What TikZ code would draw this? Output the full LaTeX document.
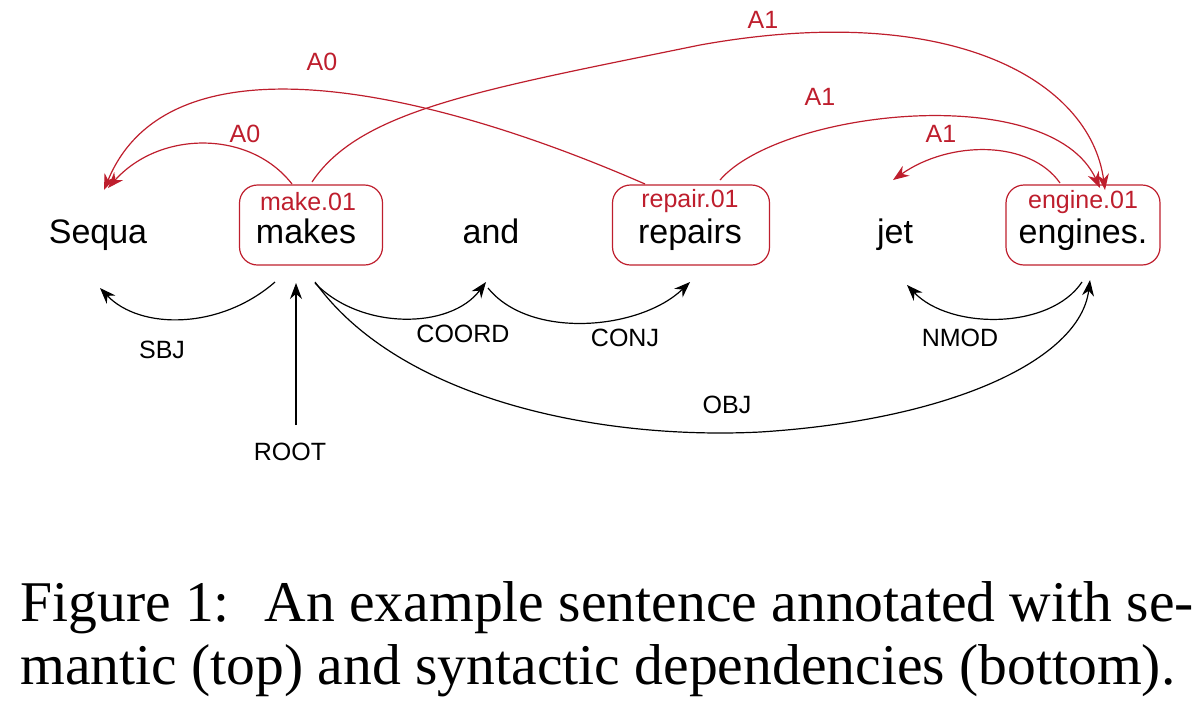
\documentclass[tikz,border=0pt]{standalone}
\usepackage{fontspec}
\setmainfont{Liberation Serif}
\newfontfamily\diag{Liberation Sans}
\usetikzlibrary{arrows.meta}
\definecolor{semred}{RGB}{190,30,45}
\begin{document}
\begin{tikzpicture}[x=0.5pt,y=-0.5pt,
  word/.style={font=\diag\fontsize{17}{20}\selectfont,inner sep=0pt,anchor=base},
  pred/.style={draw=semred,line width=0.6pt,rounded corners=9pt,minimum height=40pt,inner sep=0pt},
  plab/.style={font=\diag\fontsize{12.5}{15}\selectfont,text=semred,inner sep=0pt},
  slab/.style={font=\diag\fontsize{12.5}{14}\selectfont,inner sep=0pt},
  sem/.style={draw=semred,line width=0.6pt,-{Stealth[length=8pt,width=6pt]}},
  syn/.style={draw=black,line width=0.6pt,-{Stealth[length=8pt,width=6pt]}}]
\useasboundingbox (0,0) rectangle (1202,720);
\node[pred,minimum width=71.5pt] (bmake) at (311,225) {};
\node[pred,minimum width=78.5pt] (brep) at (691,225) {};
\node[pred,minimum width=77pt] (beng) at (1083,225) {};
\node[word] (sequa) at (98,243) {Sequa};
\node[word] (makes) at (306,243) {makes};
\node[word] (and) at (491,243) {and};
\node[word] (repairs) at (690,243) {repairs};
\node[word] (jet) at (895,243) {jet};
\node[word] (engines) at (1083,243) {engines.};
\node[plab] (p1) at (308,202) {make.01};
\node[plab] (p2) at (690,201) {repair.01};
\node[plab] (p3) at (1083,202) {engine.01};
% semantic
\coordinate (s1) at (292,184); \coordinate (e1) at (108,188);
\draw[sem] (s1) .. controls (250,130) and (160,130) .. (e1);
\node[plab] (la1) at (245,134) {A0};
\coordinate (s2) at (645,184); \coordinate (e2) at (104,190);
\draw[sem] (s2) .. controls (430,90) and (170,30) .. (e2);
\node[plab] (la2) at (322,62) {A0};
\coordinate (s3) at (312,182); \coordinate (e3) at (1105,190);
\draw[sem] (s3) .. controls (360,110) and (480,90) .. (700,45) .. controls (950,0) and (1090,80) .. (e3);
\node[plab] (la3) at (763,20) {A1};
\coordinate (s4) at (720,180); \coordinate (e4) at (1100,188);
\draw[sem] (s4) .. controls (780,110) and (1050,80) .. (e4);
\node[plab] (la4) at (820,97) {A1};
\coordinate (s5) at (1060,183); \coordinate (e5) at (893,180);
\draw[sem] (s5) .. controls (1030,140) and (950,140) .. (e5);
\node[plab] (la5) at (941,134) {A1};
% syntactic
\coordinate (t1) at (275,282); \coordinate (u1) at (100,288);
\draw[syn] (t1) .. controls (220,330) and (140,330) .. (u1);
\node[slab] (l1) at (162,350) {SBJ};
\coordinate (t2) at (296,425); \coordinate (u2) at (296,283);
\draw[syn] (t2) -- (u2);
\node[slab] (l2) at (290,452) {ROOT};
\coordinate (t3) at (315,283); \coordinate (u3) at (486,282);
\draw[syn] (t3) .. controls (360,330) and (450,330) .. (u3);
\node[slab] (l3) at (463,334) {COORD};
\coordinate (t4) at (488,288); \coordinate (u4) at (690,282);
\draw[syn] (t4) .. controls (530,340) and (640,330) .. (u4);
\node[slab] (l4) at (625,338) {CONJ};
\coordinate (t5) at (1082,282); \coordinate (u5) at (907,285);
\draw[syn] (t5) .. controls (1050,330) and (950,330) .. (u5);
\node[slab] (l5) at (960,338) {NMOD};
\coordinate (t6) at (315,282); \coordinate (u6) at (1090,280);
\draw[syn] (t6) .. controls (400,400) and (600,440) .. (760,432) .. controls (950,420) and (1080,360) .. (u6);
\node[slab] (l6) at (727,405) {OBJ};
% caption
\node[anchor=west,inner sep=0pt,font=\fontsize{28.8}{34}\selectfont] (c1) at (20,608) {Figure 1:\hspace{0.6em}An example sentence annotated with se-};
\node[anchor=west,inner sep=0pt,font=\fontsize{28.8}{34}\selectfont] (c2) at (20,671) {mantic (top) and syntactic dependencies (bottom).};
\end{tikzpicture}
\end{document}
